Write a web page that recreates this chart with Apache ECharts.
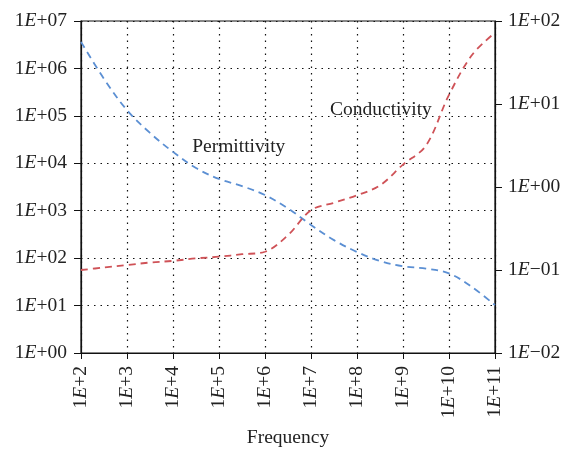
<!DOCTYPE html>
<html>
<head>
<meta charset="utf-8">
<script src="https://cdn.jsdelivr.net/npm/echarts@6/dist/echarts.min.js"></script>
<style>
html,body{margin:0;padding:0;background:#fff;}
#chart{width:562px;height:451px;}
</style>
</head>
<body>
<div id="chart"></div>
<script>
// Frequency exponents (log10 Hz)
var freqExp = [2, 2.5, 3, 3.5, 4, 4.5, 5, 5.5, 6, 6.5, 7, 7.5, 8, 8.5, 9, 9.5, 10, 10.5, 11];
// Permittivity (log10), left axis
var permExp = [6.56, 5.78, 5.12, 4.64, 4.24, 3.90, 3.67, 3.52, 3.33, 3.05, 2.70, 2.38, 2.13, 1.94, 1.83, 1.78, 1.68, 1.39, 1.01];
// Conductivity (log10 S/m), right axis
var condExp = [-1.00, -0.97, -0.94, -0.91, -0.89, -0.86, -0.84, -0.81, -0.78, -0.58, -0.28, -0.19, -0.10, 0.02, 0.27, 0.50, 1.11, 1.59, 1.86];

var labelPerm = {text: 'Permittivity', x: 5.43, y: 4.34};
var labelCond = {text: 'Conductivity', x: 8.52, y: 0.93};

var FONT = '"Liberation Serif", "DejaVu Serif", serif';
var FS = 19.5;

function pow(e){ return Math.pow(10, e); }
function expOf(v){ return Math.round(Math.log10(v)); }
function fmtY(v, pad){
  var e = expOf(v);
  var s = e < 0 ? '\u2212' : '+';
  var a = Math.abs(e);
  var digits = pad ? (a < 10 ? '0' + a : '' + a) : '' + a;
  return '{n|1}{e|E}{n|' + s + digits + '}';
}
var richLbl = {
  n: {fontFamily: FONT, fontSize: FS, color: '#222'},
  e: {fontFamily: FONT, fontSize: FS, fontStyle: 'italic', color: '#222'}
};

var permData = freqExp.map(function(f, i){ return [pow(f), pow(permExp[i])]; });
var condData = freqExp.map(function(f, i){ return [pow(f), pow(condExp[i])]; });

var chart = echarts.init(document.getElementById('chart'));
var dotted = {show: true, lineStyle: {color: '#111', type: [1.5, 5], width: 1.2}};

chart.setOption({
  animation: false,
  backgroundColor: '#fff',
  grid: {left: 81, right: 67, top: 21, bottom: 98, show: true, borderColor: '#111', borderWidth: 1.2,
         containLabel: false, outerBoundsMode: 'none'},
  xAxis: {
    type: 'log', logBase: 10, min: 1e2, max: 1e11, interval: 1,
    name: 'Frequency', nameLocation: 'middle', nameGap: 75, nameMoveOverlap: false,
    nameTextStyle: {fontFamily: FONT, fontSize: FS, color: '#222'},
    axisLine: {lineStyle: {color: '#111', width: 1.2}},
    axisTick: {show: true, length: 6, inside: false, lineStyle: {color: '#111'}},
    axisLabel: {rotate: 90, margin: 13, formatter: function(v){ return fmtY(v, false); }, rich: richLbl},
    splitLine: dotted, minorTick: {show: false}
  },
  yAxis: [{
    type: 'log', logBase: 10, min: 1, max: 1e7, interval: 1,
    axisLine: {show: true, lineStyle: {color: '#111', width: 1.2}},
    axisTick: {show: true, length: 7, lineStyle: {color: '#111'}},
    axisLabel: {margin: 14, formatter: function(v){ return fmtY(v, true); }, rich: richLbl},
    splitLine: dotted
  }, {
    type: 'log', logBase: 10, min: 1e-2, max: 1e2, interval: 1, position: 'right',
    axisLine: {show: true, lineStyle: {color: '#111', width: 1.2}},
    axisTick: {show: true, length: 7, lineStyle: {color: '#111'}},
    axisLabel: {margin: 13, formatter: function(v){ return fmtY(v, true); }, rich: richLbl},
    splitLine: {show: false}
  }],
  series: [{
    name: 'Permittivity', type: 'line', yAxisIndex: 0, data: permData,
    smooth: 0.35, showSymbol: false, symbol: 'none',
    lineStyle: {color: '#5b8fd3', width: 1.8, type: [7, 5]},
    markPoint: {
      symbol: 'circle', symbolSize: 0,
      label: {show: true, formatter: labelPerm.text, fontFamily: FONT, fontSize: FS, color: '#222', position: 'inside'},
      data: [{coord: [pow(labelPerm.x), pow(labelPerm.y)]}]
    }
  }, {
    name: 'Conductivity', type: 'line', yAxisIndex: 1, data: condData,
    smooth: 0.35, showSymbol: false, symbol: 'none',
    lineStyle: {color: '#cf5257', width: 1.8, type: [7, 5]},
    markPoint: {
      symbol: 'circle', symbolSize: 0,
      label: {show: true, formatter: labelCond.text, fontFamily: FONT, fontSize: FS, color: '#222', position: 'inside'},
      data: [{coord: [pow(labelCond.x), pow(labelCond.y)]}]
    }
  }]
});
</script>
</body>
</html>
